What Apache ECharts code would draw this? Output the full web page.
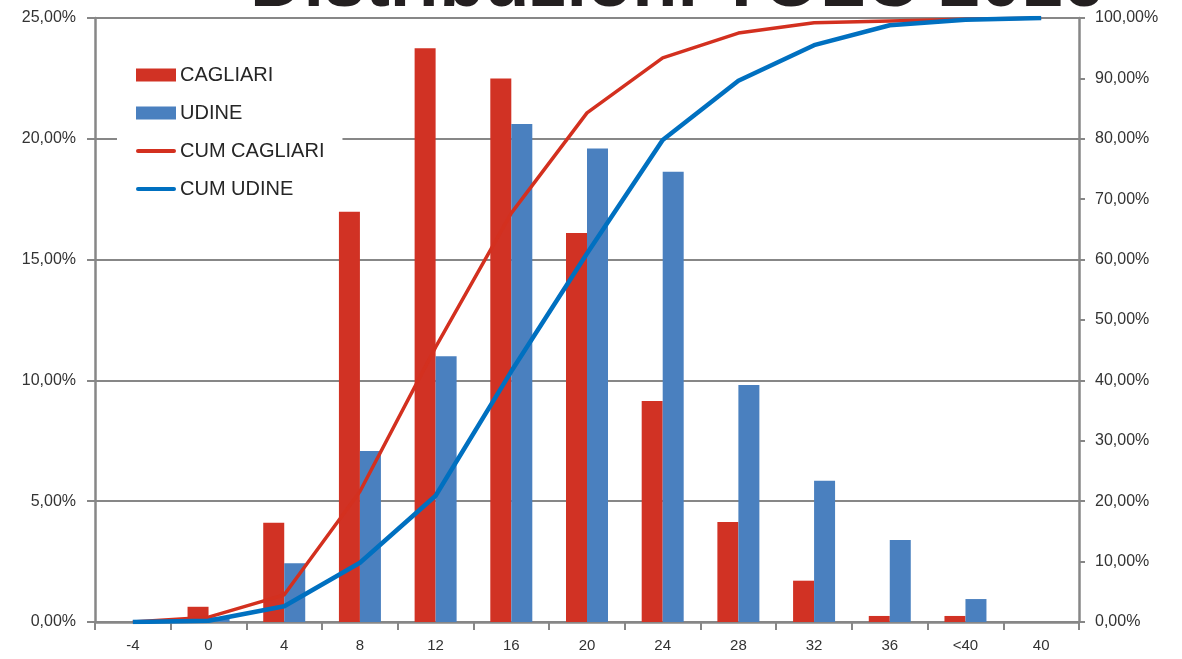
<!DOCTYPE html>
<html>
<head>
<meta charset="utf-8">
<script src="https://cdn.jsdelivr.net/npm/echarts@6/dist/echarts.min.js"></script>
<style>
html,body{margin:0;padding:0;background:#fff;}
#chart{width:1182px;height:659px;}
</style>
</head>
<body>
<div id="chart"></div>
<script>
const titleText = 'Distribuzioni TOLC 2016';
const categories = ['-4','0','4','8','12','16','20','24','28','32','36','<40','40'];
const cagliari = [0, 0.63, 4.11, 16.98, 23.75, 22.5, 16.1, 9.15, 4.14, 1.71, 0.25, 0.25, 0];
const udine = [0, 0.2, 2.43, 7.08, 11.0, 20.61, 19.6, 18.64, 9.81, 5.85, 3.39, 0.95, 0];
const cumCagliari = [0, 0.8, 4.5, 21.6, 45.5, 67.7, 84.3, 93.4, 97.5, 99.2, 99.5, 99.8, 100];
const cumUdine = [0, 0.2, 2.6, 9.8, 20.9, 41.5, 61.0, 79.8, 89.6, 95.5, 98.8, 99.7, 100];
const leftTicks = {min: 0, max: 25, interval: 5};
const rightTicks = {min: 0, max: 100, interval: 10};

const fmt = v => v.toFixed(2).replace('.', ',') + '%';
const gray = '#878787';
const labelColor = '#333333';
const lineIcon = 'path://M2,0 L38,0 A2,2 0 0 1 38,4 L2,4 A2,2 0 0 1 2,0 Z';

const chart = echarts.init(document.getElementById('chart'), null, {renderer: 'canvas'});
chart.setOption({
  animation: false,
  backgroundColor: '#ffffff',
  graphic: [{
    type: 'text',
    left: 250,
    top: -51,
    z: 100,
    style: {
      text: titleText,
      font: 'bold 74px "Liberation Sans"',
      fill: '#231f20'
    }
  }],
  grid: {left: 95, right: 103, top: 18, bottom: 37, containLabel: false},
  legend: {
    orient: 'vertical',
    left: 117,
    top: 53,
    padding: [12, 18, 12, 19],
    backgroundColor: '#ffffff',
    itemWidth: 40,
    itemHeight: 13,
    itemGap: 18,
    textStyle: {fontFamily: 'Liberation Sans', fontSize: 20, color: '#262626', padding: [0,0,0,-1]},
    data: [
      {name: 'CAGLIARI', icon: 'rect'},
      {name: 'UDINE', icon: 'rect'},
      {name: 'CUM CAGLIARI', icon: lineIcon},
      {name: 'CUM UDINE', icon: lineIcon}
    ]
  },
  xAxis: {
    type: 'category',
    data: categories,
    boundaryGap: true,
    axisLine: {lineStyle: {color: gray, width: 2.5}},
    axisTick: {show: true, interval: 0, length: 8, lineStyle: {color: gray, width: 2}},
    axisLabel: {interval: 0, margin: 16, color: labelColor, fontFamily: 'Liberation Sans', fontSize: 15}
  },
  yAxis: [{
    type: 'value',
    min: leftTicks.min, max: leftTicks.max, interval: leftTicks.interval,
    axisLine: {show: true, lineStyle: {color: gray, width: 2.5}},
    axisTick: {show: true, length: 8, lineStyle: {color: gray, width: 2}},
    splitLine: {show: true, lineStyle: {color: gray, width: 2}},
    axisLabel: {formatter: fmt, margin: 19, color: labelColor, fontFamily: 'Liberation Sans', fontSize: 16}
  }, {
    type: 'value',
    position: 'right',
    min: rightTicks.min, max: rightTicks.max, interval: rightTicks.interval,
    axisLine: {show: true, lineStyle: {color: gray, width: 2.5}},
    axisTick: {show: true, length: 6, lineStyle: {color: gray, width: 2}},
    splitLine: {show: false},
    axisLabel: {formatter: fmt, margin: 16, color: labelColor, fontFamily: 'Liberation Sans', fontSize: 16}
  }],
  series: [{
    name: 'CAGLIARI', type: 'bar', yAxisIndex: 0, data: cagliari,
    barWidth: 21, barGap: '0%',
    itemStyle: {color: '#d13224'}
  }, {
    name: 'UDINE', type: 'bar', yAxisIndex: 0, data: udine,
    barWidth: 21, barGap: '0%',
    itemStyle: {color: '#4a80bf'}
  }, {
    name: 'CUM CAGLIARI', type: 'line', yAxisIndex: 1, data: cumCagliari,
    symbol: 'none', z: 3,
    lineStyle: {color: '#d3301f', width: 3.5},
    itemStyle: {color: '#d3301f'}
  }, {
    name: 'CUM UDINE', type: 'line', yAxisIndex: 1, data: cumUdine,
    symbol: 'none', z: 4,
    lineStyle: {color: '#0070c0', width: 4.5},
    itemStyle: {color: '#0070c0'}
  }]
});
</script>
</body>
</html>
